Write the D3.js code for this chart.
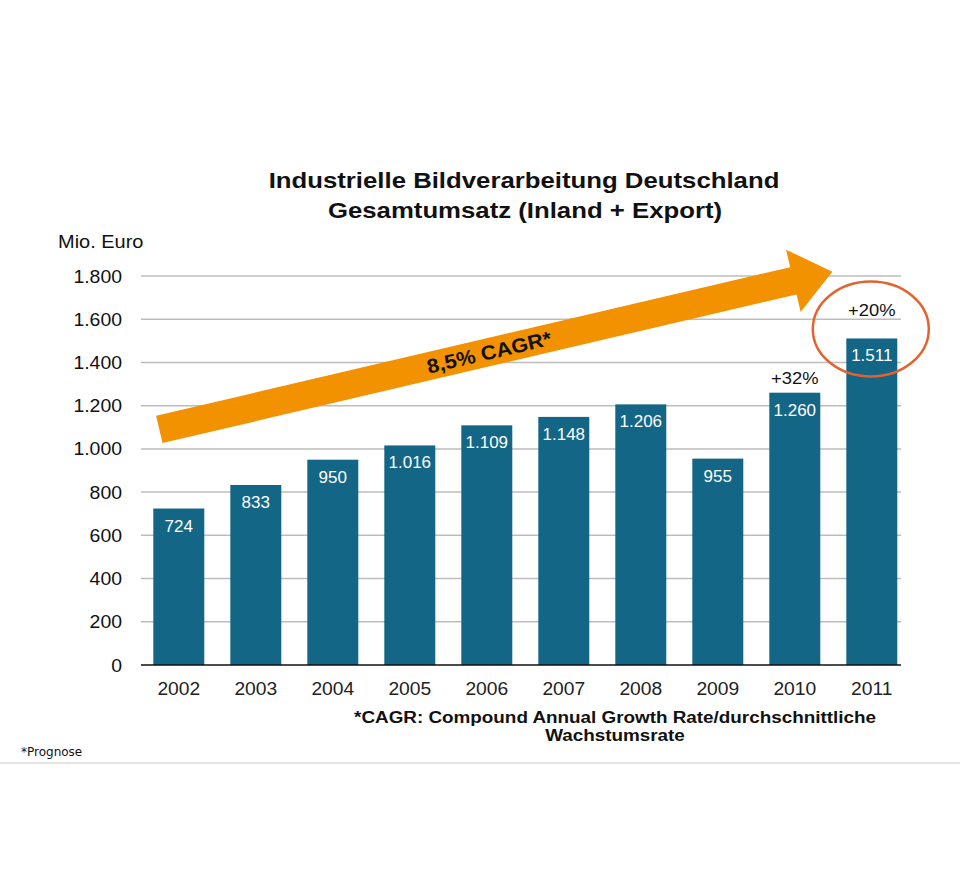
<!DOCTYPE html>
<html>
<head>
<meta charset="utf-8">
<script src="https://cdn.jsdelivr.net/npm/d3@7"></script>
<style>
  body { margin: 0; background: #fff; }
  text { font-family: "Liberation Sans", Arial, sans-serif; }
</style>
</head>
<body>
<script>
var years = ["2002", "2003", "2004", "2005", "2006", "2007", "2008", "2009", "2010", "2011"];
var revenue = [724, 833, 950, 1016, 1109, 1148, 1206, 955, 1260, 1511];
var valueLabels = ["724", "833", "950", "1.016", "1.109", "1.148", "1.206", "955", "1.260", "1.511"];
var yTicks = [0, 200, 400, 600, 800, 1000, 1200, 1400, 1600, 1800];
var yTickLabels = ["0", "200", "400", "600", "800", "1.000", "1.200", "1.400", "1.600", "1.800"];
var growthYears = ["2010", "2011"];
var growthLabels = ["+32%", "+20%"];

var width = 960, height = 892;

var svg = d3.select("body").append("svg")
    .attr("width", width)
    .attr("height", height);

var x = d3.scaleBand()
    .domain(years)
    .range([140.3, 910.3])
    .paddingInner(0.338)
    .paddingOuter(0.169);

var y = d3.scaleLinear()
    .domain([0, 1800])
    .range([665, 276]);

// the source picture is a bit wider than tall, so text gets a horizontal stretch
function place(px, py, sx) {
  return "translate(" + px + "," + py + ") scale(" + sx + ",1)";
}

// title
svg.append("text")
    .attr("transform", place(524, 188, 1.12))
    .attr("text-anchor", "middle")
    .style("font-size", "23px").style("font-weight", "bold").style("fill", "#111")
    .text("Industrielle Bildverarbeitung Deutschland");
svg.append("text")
    .attr("transform", place(525, 218, 1.12))
    .attr("text-anchor", "middle")
    .style("font-size", "23px").style("font-weight", "bold").style("fill", "#111")
    .text("Gesamtumsatz (Inland + Export)");

svg.append("text")
    .attr("transform", place(58, 248, 1.11))
    .style("font-size", "18px").style("fill", "#111")
    .text("Mio. Euro");

// grid
svg.selectAll(".grid")
    .data(yTicks.slice(1))
  .enter().append("line")
    .attr("x1", 141).attr("x2", 901)
    .attr("y1", function(d) { return y(d); })
    .attr("y2", function(d) { return y(d); })
    .style("stroke", "#bdbdbd").style("stroke-width", 1.5);

svg.selectAll(".ylab")
    .data(yTicks)
  .enter().append("text")
    .attr("transform", function(d) { return place(122, y(d) + 6.5, 1.08); })
    .attr("text-anchor", "end")
    .style("font-size", "18px").style("fill", "#111")
    .text(function(d, i) { return yTickLabels[i]; });

// bars
svg.selectAll(".bar")
    .data(revenue)
  .enter().append("rect")
    .attr("x", function(d, i) { return x(years[i]); })
    .attr("width", x.bandwidth())
    .attr("y", function(d) { return y(d); })
    .attr("height", function(d) { return y(0) - y(d); })
    .style("fill", "#136685");

svg.append("line")
    .attr("x1", 141).attr("x2", 901)
    .attr("y1", y(0)).attr("y2", y(0))
    .style("stroke", "#111").style("stroke-width", 1.5);

svg.selectAll(".vlab")
    .data(revenue)
  .enter().append("text")
    .attr("transform", function(d, i) {
      return place(x(years[i]) + x.bandwidth() / 2, y(d) + 23, 1.0);
    })
    .attr("text-anchor", "middle")
    .style("font-size", "17px").style("fill", "#fff")
    .text(function(d, i) { return valueLabels[i]; });

svg.selectAll(".xlab")
    .data(years)
  .enter().append("text")
    .attr("transform", function(d) { return place(x(d) + x.bandwidth() / 2, 695, 1.07); })
    .attr("text-anchor", "middle")
    .style("font-size", "18px").style("fill", "#222")
    .text(function(d) { return d; });

// growth annotations
var gOffsets = [9, 22];
svg.selectAll(".growth")
    .data(growthYears)
  .enter().append("text")
    .attr("transform", function(d, i) {
      return place(x(d) + x.bandwidth() / 2, y(revenue[years.indexOf(d)]) - gOffsets[i], 1.08);
    })
    .attr("text-anchor", "middle")
    .style("font-size", "17px").style("fill", "#111")
    .text(function(d, i) { return growthLabels[i]; });

svg.append("ellipse")
    .attr("cx", x("2011") + x.bandwidth() / 2 - 1)
    .attr("cy", 329)
    .attr("rx", 58).attr("ry", 47.5)
    .style("fill", "none").style("stroke", "#e2632e").style("stroke-width", 2.5);

// CAGR arrow
var p0 = [x("2002") + 6, y(1090)],
    p1 = [x("2011") - 14, y(1820)];
var dx = p1[0] - p0[0], dy = p1[1] - p0[1],
    len = Math.sqrt(dx * dx + dy * dy),
    ux = dx / len, uy = dy / len,
    nx = -uy, ny = ux;
var shaft = 14, head = 32, headLen = 40;
function pt(t, s) { return [p0[0] + ux * t + nx * s, p0[1] + uy * t + ny * s]; }
var arrowPts = [
  pt(0, -shaft), pt(len - headLen, -shaft), pt(len - headLen, -head),
  pt(len, 0),
  pt(len - headLen, head), pt(len - headLen, shaft), pt(0, shaft)
];
svg.append("path")
    .attr("d", d3.line()(arrowPts) + "Z")
    .style("fill", "#f39200");

var angle = Math.atan2(dy, dx) * 180 / Math.PI;
var c = pt(len * 0.49, 0);
svg.append("text")
    .attr("transform", "translate(" + c[0] + "," + c[1] + ") rotate(" + angle + ") scale(1.08,1)")
    .attr("text-anchor", "middle")
    .attr("dy", "0.36em")
    .style("font-size", "20px").style("font-weight", "bold").style("fill", "#111")
    .text("8,5% CAGR*");

// footnotes
svg.append("text")
    .attr("transform", place(615, 723, 1.11))
    .attr("text-anchor", "middle")
    .style("font-size", "17px").style("font-weight", "bold").style("fill", "#111")
    .text("*CAGR: Compound Annual Growth Rate/durchschnittliche");
svg.append("text")
    .attr("transform", place(615, 741, 1.11))
    .attr("text-anchor", "middle")
    .style("font-size", "17px").style("font-weight", "bold").style("fill", "#111")
    .text("Wachstumsrate");

svg.append("text")
    .attr("x", 21).attr("y", 756)
    .style("font-family", "'DejaVu Sans', sans-serif")
    .style("font-size", "12px").style("fill", "#111")
    .text("*Prognose");

svg.append("line")
    .attr("x1", 0).attr("x2", width)
    .attr("y1", 763).attr("y2", 763)
    .style("stroke", "#ccc").style("stroke-width", 1);
</script>
</body>
</html>
